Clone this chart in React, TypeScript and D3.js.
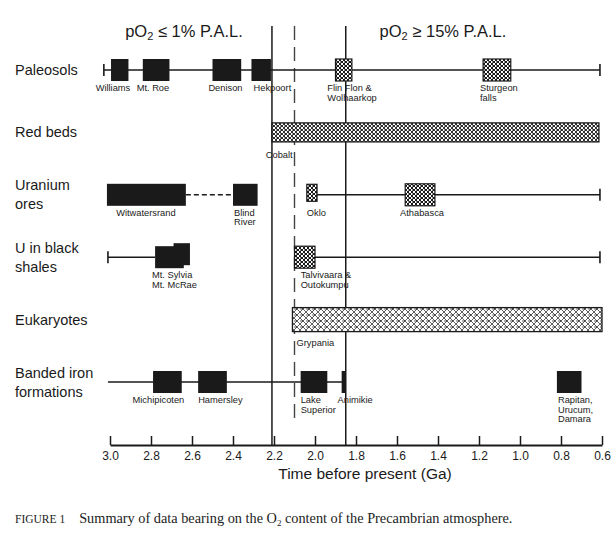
import React, { useEffect, useRef } from "react";
import * as d3 from "d3";

// rows of evidence, top to bottom
const rowNames = ["Paleosols", "Red beds", "Uranium ores", "U in black shales", "Eukaryotes", "Banded iron formations"];
const rowLabelLines = [["Paleosols"], ["Red beds"], ["Uranium", "ores"], ["U in black", "shales"], ["Eukaryotes"], ["Banded iron", "formations"]];

// time axis (Ga)
const tickValues = [3.0, 2.8, 2.6, 2.4, 2.2, 2.0, 1.8, 1.6, 1.4, 1.2, 1.0, 0.8, 0.6];

// range lines: row, from (Ga), to (Ga)
const spans = [
	{ row: 0, from: 3.03, to: 0.61, capL: true, capR: true },
	{ row: 2, from: 2.63, to: 2.4, dashed: true },
	{ row: 2, from: 1.99, to: 0.61, capR: true },
	{ row: 3, from: 3.01, to: 2.78, capL: true },
	{ row: 3, from: 2.0, to: 0.61, capR: true },
	{ row: 5, from: 3.01, to: 1.85 }
];

// boxes: solid = black block, hatch = patterned block
const boxes = [
	{ row: 0, from: 2.995, to: 2.91, kind: "solid" },
	{ row: 0, from: 2.84, to: 2.71, kind: "solid" },
	{ row: 0, from: 2.5, to: 2.36, kind: "solid" },
	{ row: 0, from: 2.31, to: 2.215, kind: "solid" },
	{ row: 0, from: 1.9, to: 1.82, kind: "hatch" },
	{ row: 0, from: 1.18, to: 1.045, kind: "hatch" },
	{ row: 2, from: 3.015, to: 2.63, kind: "solid" },
	{ row: 2, from: 2.4, to: 2.28, kind: "solid" },
	{ row: 2, from: 2.04, to: 1.99, kind: "hatchSmall" },
	{ row: 2, from: 1.56, to: 1.415, kind: "hatch" },
	{ row: 3, from: 2.78, to: 2.64, kind: "solid" },
	{ row: 3, from: 2.69, to: 2.61, kind: "solidRaised" },
	{ row: 3, from: 2.1, to: 2.0, kind: "hatch" },
	{ row: 5, from: 2.79, to: 2.65, kind: "solid" },
	{ row: 5, from: 2.57, to: 2.43, kind: "solid" },
	{ row: 5, from: 2.07, to: 1.94, kind: "solid" },
	{ row: 5, from: 1.87, to: 1.85, kind: "solid" },
	{ row: 5, from: 0.82, to: 0.7, kind: "solid" }
];

// long patterned bars
const bars = [
	{ row: 1, from: 2.21, to: 0.615, pattern: "hatchDense" },
	{ row: 4, from: 2.11, to: 0.6, pattern: "hatchLight" }
];

// small locality labels (left edge in Ga)
const sites = [
	{ row: 0, at: 3.07, lines: ["Williams"] },
	{ row: 0, at: 2.87, lines: ["Mt. Roe"] },
	{ row: 0, at: 2.52, lines: ["Denison"] },
	{ row: 0, at: 2.3, lines: ["Hekpoort"] },
	{ row: 0, at: 1.94, lines: ["Flin Flon &", "Wolhaarkop"] },
	{ row: 0, at: 1.195, lines: ["Sturgeon", "falls"] },
	{ row: 1, at: 2.24, lines: ["Cobalt"] },
	{ row: 2, at: 2.97, lines: ["Witwatersrand"] },
	{ row: 2, at: 2.395, lines: ["Blind", "River"] },
	{ row: 2, at: 2.04, lines: ["Oklo"] },
	{ row: 2, at: 1.585, lines: ["Athabasca"] },
	{ row: 3, at: 2.795, lines: ["Mt. Sylvia", "Mt. McRae"] },
	{ row: 3, at: 2.07, lines: ["Talvivaara &", "Outokumpu"] },
	{ row: 4, at: 2.09, lines: ["Grypania"] },
	{ row: 5, at: 2.89, lines: ["Michipicoten"] },
	{ row: 5, at: 2.57, lines: ["Hamersley"] },
	{ row: 5, at: 2.07, lines: ["Lake", "Superior"] },
	{ row: 5, at: 1.89, lines: ["Animikie"] },
	{ row: 5, at: 0.815, lines: ["Rapitan,", "Urucum,", "Damara"] }
];

// vertical marker lines (Ga)
const solidMarkers = [2.21, 1.85];
const dashedMarkers = [2.1];

const W = 615;
const H = 539;

function Chart() {
	const ref = useRef(null);

	useEffect(() => {
		const svg = d3.select(ref.current);
		svg.selectAll("*").remove();

		const x = d3.scaleLinear().domain([3.0, 0.6]).range([110, 602]);
		const y = d3.scalePoint().domain(rowNames).range([70, 382]);
		const axisY = 445;
		const ink = "#1a1a1a";
		const sans = "'Liberation Sans', Arial, sans-serif";

		// patterns for the speckled boxes
		const defs = svg.append("defs");
		const pat = (id, size, w) => {
			const p = defs
				.append("pattern")
				.attr("id", id)
				.attr("width", size)
				.attr("height", size)
				.attr("patternUnits", "userSpaceOnUse");
			p.append("rect").attr("width", size).attr("height", size).attr("fill", "#fff");
			p.append("path")
				.attr("d", `M0,0L${size},${size}M${size},0L0,${size}M0,${size / 2}H${size / 2}`)
				.attr("stroke", ink)
				.attr("stroke-width", w);
		};
		pat("hatchDense", 4, 0.9);
		pat("hatchLight", 6, 0.7);
		pat("hatchBox", 4, 1);

		// vertical markers
		svg.selectAll(".vsolid")
			.data(solidMarkers)
			.enter()
			.append("line")
			.attr("x1", (d) => x(d))
			.attr("x2", (d) => x(d))
			.attr("y1", 26)
			.attr("y2", axisY)
			.attr("stroke", ink)
			.attr("stroke-width", 1.5);
		svg.selectAll(".vdash")
			.data(dashedMarkers)
			.enter()
			.append("line")
			.attr("x1", (d) => x(d))
			.attr("x2", (d) => x(d))
			.attr("y1", 26)
			.attr("y2", 425)
			.attr("stroke", "#444")
			.attr("stroke-width", 1.4)
			.attr("stroke-dasharray", "14,7");

		// range lines
		spans.forEach((s) => {
			const yy = y(rowNames[s.row]);
			svg.append("line")
				.attr("x1", x(s.from))
				.attr("x2", x(s.to))
				.attr("y1", yy)
				.attr("y2", yy)
				.attr("stroke", ink)
				.attr("stroke-width", 1.6)
				.attr("stroke-dasharray", s.dashed ? "5,3" : null);
			if (s.capL) {
				svg.append("line").attr("x1", x(s.from)).attr("x2", x(s.from))
					.attr("y1", yy - 6).attr("y2", yy + 6).attr("stroke", ink).attr("stroke-width", 1.6);
			}
			if (s.capR) {
				svg.append("line").attr("x1", x(s.to)).attr("x2", x(s.to))
					.attr("y1", yy - 6).attr("y2", yy + 6).attr("stroke", ink).attr("stroke-width", 1.6);
			}
		});

		// long bars
		bars.forEach((b) => {
			const yy = y(rowNames[b.row]);
			const h = b.row === 1 ? 19 : 24;
			svg.append("rect")
				.attr("x", x(b.from))
				.attr("y", yy - h / 2)
				.attr("width", x(b.to) - x(b.from))
				.attr("height", h)
				.attr("fill", `url(#${b.pattern})`)
				.attr("stroke", ink)
				.attr("stroke-width", 1.3);
		});

		// boxes
		boxes.forEach((b) => {
			const yy = y(rowNames[b.row]);
			let h = 22;
			let off = 0;
			if (b.kind === "hatchSmall") { h = 17; off = -2; }
			if (b.kind === "solidRaised") off = -3;
			const hatched = b.kind.startsWith("hatch");
			svg.append("rect")
				.attr("x", x(b.from))
				.attr("y", yy - h / 2 + off)
				.attr("width", x(b.to) - x(b.from))
				.attr("height", h)
				.attr("fill", hatched ? "url(#hatchBox)" : ink)
				.attr("stroke", ink)
				.attr("stroke-width", hatched ? 1.2 : 0);
		});

		// site labels
		sites.forEach((s) => {
			const yy = y(rowNames[s.row]);
			const base = yy + (s.row === 1 || s.row === 4 ? 26 : 21);
			const t = svg.append("text")
				.attr("x", x(s.at))
				.attr("y", base)
				.attr("font-family", sans)
				.attr("font-size", 9.3)
				.attr("fill", ink);
			s.lines.forEach((ln, i) => {
				t.append("tspan").attr("x", x(s.at)).attr("dy", i === 0 ? 0 : 9.5).text(ln);
			});
		});

		// row labels
		rowNames.forEach((r, i) => {
			const lines = rowLabelLines[i];
			const yy = y(r);
			const t = svg.append("text")
				.attr("x", 15)
				.attr("y", yy + 5 - (lines.length - 1) * 9.5)
				.attr("font-family", sans)
				.attr("font-size", 14.5)
				.attr("fill", ink);
			lines.forEach((ln, j) => {
				t.append("tspan").attr("x", 15).attr("dy", j === 0 ? 0 : 19).text(ln);
			});
		});

		// headers
		const hdr = (cx, sym, pct) => {
			const t = svg.append("text")
				.attr("x", cx)
				.attr("y", 37)
				.attr("text-anchor", "middle")
				.attr("font-family", sans)
				.attr("font-size", 16.5)
				.attr("fill", ink);
			t.append("tspan").text("pO");
			t.append("tspan").attr("font-size", 11).attr("dy", 3).text("2");
			t.append("tspan").attr("dy", -3).text(` ${sym} ${pct} P.A.L.`);
		};
		hdr(184, "\u2264", "1%");
		hdr(443, "\u2265", "15%");

		// axis
		const axis = d3.axisBottom(x)
			.tickValues(tickValues)
			.tickFormat(d3.format(".1f"))
			.tickSizeInner(-9)
			.tickSizeOuter(0)
			.tickPadding(6);
		const g = svg.append("g").attr("transform", `translate(0,${axisY})`).call(axis);
		g.select(".domain").attr("stroke", ink).attr("stroke-width", 1.8);
		g.selectAll(".tick line").attr("stroke", ink).attr("stroke-width", 1.5);
		g.selectAll(".tick text").attr("font-family", sans).attr("font-size", 12).attr("fill", ink);

		svg.append("text")
			.attr("x", 365)
			.attr("y", 479)
			.attr("text-anchor", "middle")
			.attr("font-family", sans)
			.attr("font-size", 15.5)
			.attr("fill", ink)
			.text("Time before present (Ga)");

		// caption
		const cap = svg.append("text")
			.attr("x", 15)
			.attr("y", 523)
			.attr("font-family", "'Liberation Serif', 'Times New Roman', serif")
			.attr("font-size", 14.3)
			.attr("fill", "#222");
		cap.append("tspan").attr("font-size", 11.5).text("FIGURE 1");
		cap.append("tspan").attr("dx", 14).text("Summary of data bearing on the O");
		cap.append("tspan").attr("font-size", 9).attr("dy", 3).text("2");
		cap.append("tspan").attr("dy", -3).text(" content of the Precambrian atmosphere.");
	}, []);

	return <svg ref={ref} width={W} height={H} style={{ position: "absolute", left: 0, top: 0, background: "#fff" }}></svg>;
}

export default function App() {
	return <Chart />;
}
